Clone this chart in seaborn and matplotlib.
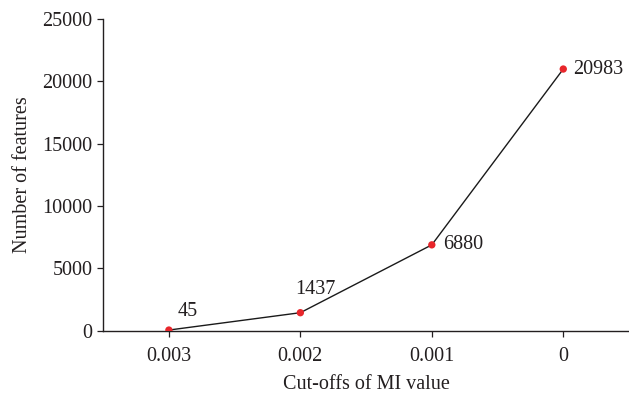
import pandas as pd
import seaborn as sns
import matplotlib.pyplot as plt

cutoffs = ["0.003", "0.002", "0.001", "0"]
n_features = [45, 1437, 6880, 20983]
y_ticks = [0, 5000, 10000, 15000, 20000, 25000]

df = pd.DataFrame({"cutoff": cutoffs, "features": n_features})

sns.set_style("ticks")
plt.rcParams['font.family'] = ['Liberation Serif', 'DejaVu Serif']

fig = plt.figure(figsize=(6.29, 3.95), dpi=100)
ax = fig.add_axes([0.164, 0.163, 0.836, 0.789])

sns.lineplot(data=df, x="cutoff", y="features", sort=False, color="#1a1a1a",
             linewidth=1.0, ax=ax)
sns.scatterplot(data=df, x="cutoff", y="features", color="#e8262b", s=28,
                edgecolor="none", zorder=3, ax=ax)

# value labels, offsets in points from each marker
label_offsets = [(6, 13), (-4, 17), (8, 0), (7, 0)]
for i, (v, off) in enumerate(zip(n_features, label_offsets)):
    ax.annotate(f"{v}", (i, v), xytext=off, textcoords="offset points",
                fontsize=14.5, ha="left", va="center", color="#231f20")

ax.set_xlim(-0.5, 3.5)
ax.set_ylim(0, 25000)
ax.set_yticks(y_ticks)
ax.set_xlabel("Cut-offs of MI value", fontsize=14.5, color="#231f20", labelpad=6)
ax.set_ylabel("Number of features", fontsize=14.5, color="#231f20", labelpad=8)
ax.tick_params(axis="both", labelsize=14.5, colors="#231f20", length=4, width=0.9)
ax.tick_params(axis="x", pad=8)
for s in ["left", "bottom"]:
    ax.spines[s].set_linewidth(1.0)
    ax.spines[s].set_color("#231f20")
sns.despine(ax=ax)

fig.savefig("out.png", dpi=100)
